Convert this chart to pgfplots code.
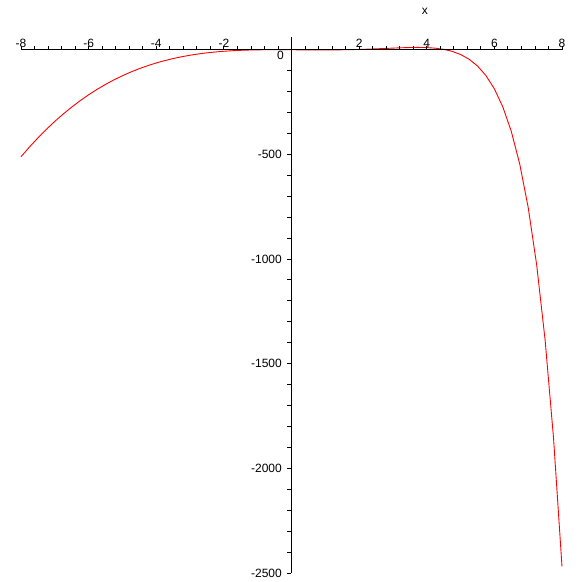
\documentclass[border=0pt]{standalone}
\usepackage{pgfplots}
\pgfplotsset{compat=1.18}
\usepackage{fontspec}
\setmainfont{Liberation Sans}
\begin{document}
\fontsize{12}{14}\selectfont
\begin{tikzpicture}
\begin{axis}[
  scale only axis, width=541pt, height=536pt,
  xmin=-8, xmax=8, ymin=-2500, ymax=60,
  axis lines=middle,
  axis line style={-, line width=1pt, black},
  axis on top,
  clip=false,
  xtick={-8,-6,-4,-2,0,2,4,6,8},
  xticklabels={-8,-6,-4,-2,,2,4,6,8},
  minor x tick num=4,
  ytick={-2500,-2000,-1500,-1000,-500,0},
  yticklabels={-2500,-2000,-1500,-1000,-500,},
  minor y tick num=4,
  extra y ticks={0}, extra y tick labels={0},
  extra y tick style={major tick length=0pt, yticklabel style={anchor=north east, yshift=2pt}},
  tick align=center,
  major tick length=4pt, minor tick length=4pt,
  every tick/.style={black, line width=0.8pt},
  every x tick/.style={yshift=2pt},
  every y tick/.style={xshift=-2pt},
  xticklabel style={anchor=south, inner sep=3.5pt, font=\fontsize{12}{14}\selectfont},
  yticklabel style={anchor=east, inner sep=3.5pt, xshift=-4pt, font=\fontsize{12}{14}\selectfont},
  xlabel={x},
  xlabel style={at={(axis description cs:0.7465,1)}, anchor=base, yshift=22.7pt, font=\fontsize{12}{14}\selectfont},
]
\addplot[red, line width=0.9pt] coordinates {
(-8,-512.0) (-7.75,-465.48) (-7.5,-421.88) (-7.25,-381.08) (-7,-343.0) (-6.75,-307.55)
(-6.5,-274.63) (-6.25,-244.14) (-6,-216.0) (-5.75,-190.11) (-5.5,-166.38) (-5.25,-144.70)
(-5,-125.01) (-4.75,-107.18) (-4.5,-91.14) (-4.25,-76.78) (-4,-64.02) (-3.75,-52.76)
(-3.5,-42.91) (-3.25,-34.37) (-3,-27.05) (-2.75,-20.86) (-2.5,-15.71) (-2.25,-11.50)
(-2,-8.14) (-1.75,-5.53) (-1.5,-3.60) (-1.25,-2.24) (-1,-1.37) (-0.75,-0.89)
(-0.5,-0.73) (-0.25,-0.79) (0,-1.0) (0.25,-1.27) (0.5,-1.52) (0.75,-1.70)
(1,-1.72) (1.25,-1.54) (1.5,-1.11) (1.75,-0.40) (2,0.61) (2.25,1.90)
(2.5,3.44) (2.75,5.16) (3,6.91) (3.25,8.54) (3.5,9.76) (3.75,10.21)
(4,9.40) (4.25,6.66) (4.5,1.11) (4.75,-8.41) (5,-23.41) (5.25,-45.87)
(5.5,-78.32) (5.75,-124.08) (6,-187.43) (6.25,-273.87) (6.5,-390.52) (6.75,-546.51)
(7,-753.63) (7.25,-1027.02) (7.5,-1386.17) (7.75,-1856.09) (8,-2468.96)
};
\end{axis}
\path (current axis.south west) ++(-21pt,-9pt) rectangle ++(582pt,582pt);
\end{tikzpicture}
\end{document}
